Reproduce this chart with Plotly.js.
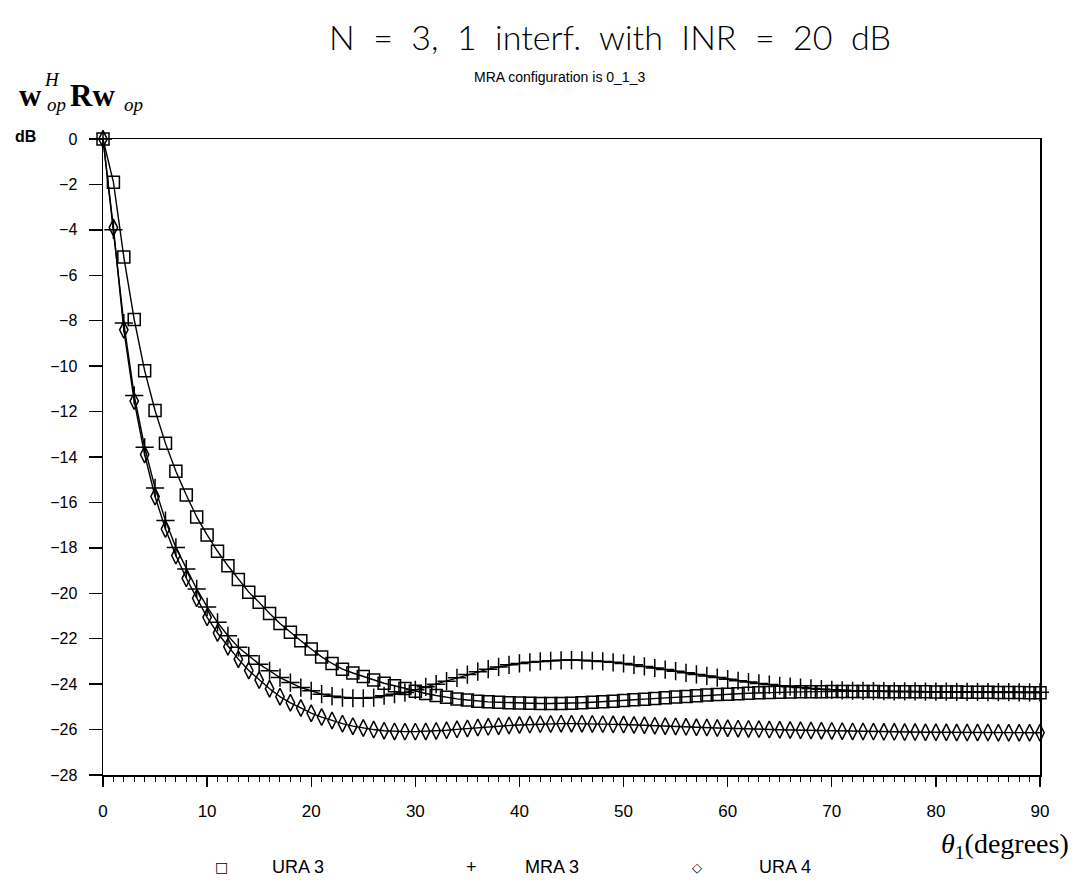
<!DOCTYPE html>
<html>
<head>
<meta charset="utf-8">
<script src="https://cdn.plot.ly/plotly-3.0.1.min.js"></script>
<style>html,body{margin:0;padding:0;background:#fff;}#chart{width:1085px;height:893px;}</style>
</head>
<body>
<div id="chart"></div>
<script>
const theta = [0,1,2,3,4,5,6,7,8,9,10,11,12,13,14,15,16,17,18,19,20,21,22,23,24,25,26,27,28,29,30,31,32,33,34,35,36,37,38,39,40,41,42,43,44,45,46,47,48,49,50,51,52,53,54,55,56,57,58,59,60,61,62,63,64,65,66,67,68,69,70,71,72,73,74,75,76,77,78,79,80,81,82,83,84,85,86,87,88,89,90];
const ura3 = [0,-1.9,-5.2,-7.95,-10.2,-11.95,-13.4,-14.63,-15.67,-16.64,
-17.43,-18.15,-18.79,-19.39,-19.95,-20.4,-20.89,-21.33,-21.72,-22.09,
-22.45,-22.8,-23.09,-23.34,-23.51,-23.66,-23.82,-23.96,-24.07,-24.19,
-24.31,-24.41,-24.5,-24.58,-24.65,-24.7,-24.75,-24.78,-24.8,-24.82,
-24.83,-24.84,-24.85,-24.85,-24.85,-24.84,-24.82,-24.8,-24.78,-24.75,
-24.72,-24.69,-24.66,-24.63,-24.6,-24.57,-24.54,-24.51,-24.48,-24.46,
-24.44,-24.42,-24.4,-24.38,-24.37,-24.36,-24.35,-24.34,-24.33,-24.33,
-24.32,-24.32,-24.32,-24.32,-24.32,-24.33,-24.33,-24.33,-24.34,-24.34,
-24.35,-24.35,-24.35,-24.36,-24.36,-24.36,-24.37,-24.37,-24.37,-24.38,
-24.38];
const mra3 = [0,-4.0,-8.1,-11.29,-13.57,-15.36,-16.8,-17.98,-18.93,-19.81,
-20.6,-21.28,-21.87,-22.38,-22.75,-23.12,-23.41,-23.71,-23.93,-24.15,
-24.29,-24.44,-24.53,-24.59,-24.62,-24.62,-24.59,-24.51,-24.44,-24.37,
-24.25,-24.12,-24.0,-23.87,-23.72,-23.58,-23.45,-23.34,-23.24,-23.15,
-23.09,-23.04,-23.0,-22.97,-22.95,-22.94,-22.95,-22.97,-23.0,-23.04,
-23.09,-23.15,-23.22,-23.29,-23.36,-23.43,-23.5,-23.57,-23.64,-23.71,
-23.78,-23.85,-23.91,-23.97,-24.02,-24.07,-24.11,-24.15,-24.19,-24.22,
-24.25,-24.27,-24.29,-24.3,-24.31,-24.31,-24.32,-24.32,-24.32,-24.33,
-24.33,-24.33,-24.34,-24.34,-24.34,-24.35,-24.35,-24.35,-24.36,-24.36,
-24.36];
const ura4 = [0,-3.9,-8.4,-11.54,-13.89,-15.74,-17.17,-18.34,-19.34,-20.22,
-21.06,-21.75,-22.35,-22.9,-23.4,-23.82,-24.2,-24.55,-24.82,-25.05,
-25.28,-25.45,-25.6,-25.74,-25.85,-25.93,-26.0,-26.05,-26.08,-26.09,
-26.09,-26.08,-26.06,-26.03,-25.99,-25.95,-25.91,-25.88,-25.85,-25.82,
-25.8,-25.78,-25.76,-25.75,-25.74,-25.74,-25.74,-25.75,-25.76,-25.77,
-25.78,-25.8,-25.81,-25.83,-25.85,-25.86,-25.88,-25.9,-25.91,-25.93,
-25.94,-25.96,-25.97,-25.98,-26.0,-26.01,-26.02,-26.03,-26.04,-26.05,
-26.06,-26.07,-26.08,-26.08,-26.09,-26.1,-26.1,-26.11,-26.11,-26.12,
-26.12,-26.12,-26.13,-26.13,-26.13,-26.13,-26.14,-26.14,-26.14,-26.14,
-26.14];
const xTicks = [0,10,20,30,40,50,60,70,80,90];
const yTicks = [0,-2,-4,-6,-8,-10,-12,-14,-16,-18,-20,-22,-24,-26,-28];
const seriesNames = ['URA 3','MRA 3','URA 4'];

// plot area in pixels
const L = 103, R = 1040, T = 139, B = 775;
const W = 1085, H = 893;
const px = x => (x - L) / (R - L);
const py = y => (B - y) / (B - T);

const sans = 'Liberation Sans, Arial, sans-serif';
const serif = 'Liberation Serif, DejaVu Serif, serif';

function tr(y, name, symbol, size) {
  return {
    x: theta, y: y, name: name, type: 'scatter', mode: 'lines+markers',
    cliponaxis: false,
    line: {color: '#000', width: 1.4},
    marker: {symbol: symbol, size: size, color: '#000', line: {color: '#000', width: 1.5}},
    showlegend: false
  };
}

const data = [
  tr(ura3, seriesNames[0], 'square-open', 12),
  tr(mra3, seriesNames[1], 'cross-thin-open', 13),
  tr(ura4, seriesNames[2], 'diamond-tall-open', 12)
];

const ann = [];
function A(text, xp, yp, opts) {
  ann.push(Object.assign({text: text, xref: 'paper', yref: 'paper', x: px(xp), y: py(yp),
    showarrow: false, xanchor: 'center', yanchor: 'middle', font: {family: sans, size: 18, color: '#000'}}, opts || {}));
}
A('N  =  3,  1  interf.  with  INR  =  20  dB', 610, 37, {font: {family: 'Lato, Liberation Sans, sans-serif', size: 34, weight: 300, color: '#000'}});
A('MRA configuration is 0_1_3', 559, 77, {font: {family: sans, size: 14, color: '#000'}});
A('dB', 25, 137, {font: {family: sans, size: 16, weight: 'bold', color: '#000'}});
// y-axis title: w^H_op R w_op
A('<b>w</b>', 30, 96, {font: {family: serif, size: 31, color: '#000'}});
A('<i>H</i>', 52, 80, {font: {family: serif, size: 19, color: '#000'}});
A('<i>op</i>', 56, 105, {font: {family: serif, size: 19, color: '#000'}});
A('<b>Rw</b>', 92, 96, {font: {family: serif, size: 31, color: '#000'}});
A('<i>op</i>', 133, 105, {font: {family: serif, size: 19, color: '#000'}});
// x-axis title
A('<i>θ</i><sub>1</sub>(degrees)', 1005, 845, {font: {family: serif, size: 28, color: '#000'}});
// legend
A('□', 221, 867, {font: {family: 'DejaVu Sans, sans-serif', size: 14, color: '#000'}});
A(seriesNames[0], 270, 867, {xanchor: 'left'});
A('+', 471, 867, {font: {family: sans, size: 18, color: '#000'}});
A(seriesNames[1], 523, 867, {xanchor: 'left'});
A('◇', 697, 867, {font: {family: 'DejaVu Sans, sans-serif', size: 13, color: '#000'}});
A(seriesNames[2], 757, 867, {xanchor: 'left'});

const layout = {
  width: W, height: H,
  margin: {l: L, r: W - R, t: T, b: H - B, pad: 0},
  paper_bgcolor: '#fff', plot_bgcolor: '#fff',
  showlegend: false,
  xaxis: {
    range: [0, 90], tickvals: xTicks, ticktext: xTicks.map(String),
    showgrid: false, zeroline: false, showline: true, linecolor: '#000', linewidth: 1.5, mirror: true,
    ticks: 'outside', ticklen: 10, tickwidth: 1.3, tickcolor: '#000',
    minor: {dtick: 1, ticks: 'outside', ticklen: 5, tickwidth: 1, tickcolor: '#000', showgrid: false},
    tickfont: {family: sans, size: 17, color: '#000'}, ticklabelstandoff: 10
  },
  yaxis: {
    range: [-28, 0], tickvals: yTicks, ticktext: yTicks.map(v => v === 0 ? '0' : '\u2212' + Math.abs(v)),
    showgrid: false, zeroline: false, showline: true, linecolor: '#000', linewidth: 1.5, mirror: true,
    ticks: 'outside', ticklen: 13, tickwidth: 1.3, tickcolor: '#000',
    tickfont: {family: sans, size: 16, color: '#000'}, ticklabelstandoff: 8
  },
  annotations: ann
};

Plotly.newPlot('chart', data, layout, {staticPlot: true, displayModeBar: false});
</script>
</body>
</html>
